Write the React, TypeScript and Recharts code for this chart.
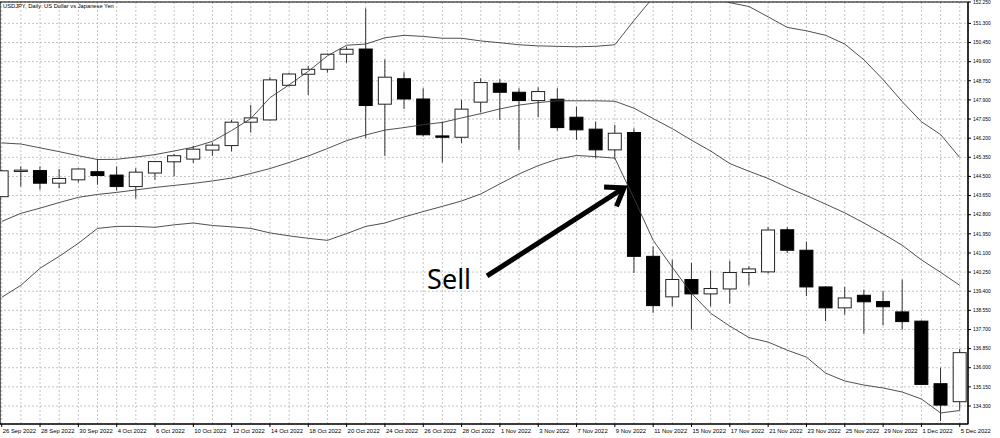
import React from 'react';
import {
  ComposedChart,
  Bar,
  Line,
  XAxis,
  YAxis,
  CartesianGrid,
  ReferenceArea,
  ReferenceLine,
} from 'recharts';

// ---- data ----
const dates = [
  '26 Sep 2022', '27 Sep 2022', '28 Sep 2022', '29 Sep 2022', '30 Sep 2022',
  '3 Oct 2022', '4 Oct 2022', '5 Oct 2022', '6 Oct 2022', '7 Oct 2022',
  '10 Oct 2022', '11 Oct 2022', '12 Oct 2022', '13 Oct 2022', '14 Oct 2022',
  '17 Oct 2022', '18 Oct 2022', '19 Oct 2022', '20 Oct 2022', '21 Oct 2022',
  '24 Oct 2022', '25 Oct 2022', '26 Oct 2022', '27 Oct 2022', '28 Oct 2022',
  '31 Oct 2022', '1 Nov 2022', '2 Nov 2022', '3 Nov 2022', '4 Nov 2022',
  '7 Nov 2022', '8 Nov 2022', '9 Nov 2022', '10 Nov 2022', '11 Nov 2022',
  '14 Nov 2022', '15 Nov 2022', '16 Nov 2022', '17 Nov 2022', '18 Nov 2022',
  '21 Nov 2022', '22 Nov 2022', '23 Nov 2022', '24 Nov 2022', '25 Nov 2022',
  '28 Nov 2022', '29 Nov 2022', '30 Nov 2022', '1 Dec 2022', '2 Dec 2022',
  '5 Dec 2022',
];

const opens = [
  143.60, 144.72, 144.76, 144.20, 144.35, 144.71, 144.56, 144.05, 144.65, 145.15,
  145.27, 145.67, 145.87, 146.91, 147.01, 148.55, 149.04, 149.26, 149.93, 150.16,
  147.71, 148.84, 147.94, 146.30, 146.24, 147.80, 148.64, 148.24, 147.87, 147.93,
  147.13, 146.60, 145.68, 146.45, 140.95, 139.15, 139.92, 139.28, 139.50, 140.23,
  140.26, 142.13, 141.22, 139.59, 138.66, 139.22, 138.94, 138.48, 138.07, 135.29,
  134.49,
];
const highs = [
  144.80, 144.94, 144.94, 144.83, 144.86, 145.27, 144.94, 144.87, 145.19, 145.50,
  145.86, 146.00, 147.01, 147.68, 148.91, 149.11, 149.41, 149.96, 150.26, 151.97,
  149.70, 149.13, 148.42, 146.94, 147.90, 148.86, 148.82, 148.42, 148.46, 148.42,
  147.60, 146.94, 146.79, 146.64, 141.39, 140.80, 140.66, 140.32, 140.76, 140.51,
  142.25, 142.25, 141.61, 139.62, 139.59, 139.47, 139.40, 139.92, 138.10, 136.00,
  136.84,
];
const lows = [
  143.58, 144.05, 143.91, 143.97, 144.23, 144.13, 143.88, 143.52, 144.35, 144.50,
  145.10, 145.42, 145.61, 146.45, 146.98, 148.50, 148.12, 149.11, 149.55, 146.20,
  145.42, 147.50, 146.27, 145.12, 145.98, 147.34, 147.01, 145.68, 147.13, 146.54,
  146.12, 145.31, 145.27, 140.21, 138.44, 138.73, 137.70, 138.73, 138.85, 139.65,
  140.18, 141.10, 139.18, 138.07, 138.36, 137.51, 137.88, 137.70, 135.24, 133.63,
  134.12,
];
const closes = [
  144.75, 144.78, 144.20, 144.41, 144.83, 144.54, 144.05, 144.69, 145.16, 145.42,
  145.71, 145.89, 146.91, 147.10, 148.79, 149.05, 149.26, 149.93, 150.15, 147.65,
  148.91, 147.94, 146.35, 146.24, 147.49, 148.67, 148.24, 147.87, 148.27, 146.67,
  146.57, 145.68, 146.42, 140.95, 138.76, 139.92, 139.28, 139.52, 140.23, 140.39,
  142.12, 141.22, 139.59, 138.66, 139.10, 138.93, 138.71, 138.05, 135.26, 134.34,
  136.67,
];

const upperBand = [
  145.99, 145.94, 145.77, 145.60, 145.42, 145.25, 145.26, 145.36, 145.47, 145.63,
  145.80, 146.06, 146.54, 147.07, 148.00, 148.57, 149.17, 149.86, 150.33, 150.38,
  150.66, 150.77, 150.72, 150.64, 150.64, 150.52, 150.44, 150.35, 150.30, 150.28,
  150.26, 150.28, 150.35, 151.43, 152.46, 152.62, 152.62, 152.45, 152.22, 152.05,
  151.59, 151.12, 150.97, 150.77, 150.38, 149.68, 148.80, 147.82, 146.93, 146.36,
  145.34,
];
const middleBand = [
  142.50, 142.86, 143.09, 143.34, 143.57, 143.70, 143.79, 143.90, 144.01, 144.10,
  144.19, 144.30, 144.43, 144.63, 144.85, 145.12, 145.41, 145.74, 146.09, 146.34,
  146.56, 146.67, 146.80, 146.90, 147.10, 147.29, 147.50, 147.67, 147.78, 147.86,
  147.86, 147.86, 147.84, 147.53, 147.07, 146.62, 146.11, 145.63, 145.07, 144.73,
  144.41, 144.01, 143.65, 143.27, 142.88, 142.43, 141.95, 141.44, 140.79, 140.24,
  139.66,
];
const lowerBand = [
  139.13, 139.66, 140.42, 140.95, 141.53, 142.19, 142.28, 142.28, 142.24, 142.35,
  142.43, 142.32, 142.26, 142.19, 141.99, 141.86, 141.75, 141.66, 141.96, 142.28,
  142.43, 142.70, 142.94, 143.17, 143.41, 143.72, 144.17, 144.61, 144.98, 145.27,
  145.43, 145.38, 145.31, 143.52, 141.66, 140.46, 139.31, 138.42, 137.85, 137.34,
  137.14, 136.78, 136.47, 135.76, 135.41, 135.23, 135.10, 134.92, 134.61, 133.99,
  134.10,
];

const yTicks = [
  134.3, 135.15, 136.0, 136.85, 137.7, 138.55, 139.4, 140.25, 141.1, 141.95,
  142.8, 143.65, 144.5, 145.35, 146.2, 147.05, 147.9, 148.75, 149.6, 150.45,
  151.3, 152.25,
];
const yDomain: [number, number] = [133.5, 152.25];
const xDomain: [number, number] = [-0.09, 50.43];

const chartTitle = 'USDJPY, Daily: US Dollar vs Japanese Yen';
const annotationText = 'Sell';
const arrowFrom = { x: 25.33, y: 140.08 };
const arrowTo = { x: 32.48, y: 143.99 };

const data = dates.map((d, i) => ({
  i,
  date: d,
  open: opens[i],
  high: highs[i],
  low: lows[i],
  close: closes[i],
  range: [lows[i], highs[i]],
  upper: upperBand[i],
  middle: middleBand[i],
  lower: lowerBand[i],
}));
const xTicks = data.map((d) => d.i);

const FONT = '"Liberation Sans", Arial, sans-serif';

const Candle = (props: any) => {
  const { x, y, width, height, payload } = props;
  if (x == null || y == null) return <g />;
  const cx = x + width / 2;
  const top = Math.min(y, y + height);
  const bottom = Math.max(y, y + height);
  const { open, high, low, close } = payload;
  const span = high - low || 1;
  const pix = (v: number) => top + ((high - v) / span) * (bottom - top);
  const bull = close >= open;
  const bTop = pix(Math.max(open, close));
  const bBot = pix(Math.min(open, close));
  const bw = 13;
  return (
    <g>
      <line x1={cx} x2={cx} y1={top} y2={bottom} stroke="#333" strokeWidth={1} />
      <rect
        x={cx - bw / 2}
        y={bTop}
        width={bw}
        height={Math.max(bBot - bTop, 1)}
        fill={bull ? '#ffffff' : '#000000'}
        stroke={bull ? '#222' : '#000'}
        strokeWidth={1}
      />
    </g>
  );
};

const XTick = (props: any) => {
  const { x, y, payload } = props;
  const i = payload.value;
  if (i % 2 !== 0) return <g />;
  return (
    <g>
      <line x1={x} x2={x} y1={y} y2={y + 3} stroke="#000" strokeWidth={1} />
      <text x={x + 1} y={y + 8.5} fontSize={5.9} fontFamily={FONT} fill="#000" textAnchor="start">
        {dates[i]}
      </text>
    </g>
  );
};

const ArrowShape = (props: any) => {
  const { x1, y1, x2, y2 } = props;
  if (x1 == null) return <g />;
  const dx = x2 - x1;
  const dy = y2 - y1;
  const len = Math.sqrt(dx * dx + dy * dy);
  const bx = -dx / len;
  const by = -dy / len;
  const ang = (35 * Math.PI) / 180;
  const L = 20;
  const rot = (a: number) => ({
    x: x2 + L * (bx * Math.cos(a) - by * Math.sin(a)),
    y: y2 + L * (bx * Math.sin(a) + by * Math.cos(a)),
  });
  const a1 = rot(ang);
  const a2 = rot(-ang);
  return (
    <g>
      <line x1={x1} y1={y1} x2={x2 - bx * -1} y2={y2 - by * -1} stroke="#000" strokeWidth={5} />
      <polyline
        points={`${a1.x},${a1.y} ${x2},${y2} ${a2.x},${a2.y}`}
        fill="none"
        stroke="#000"
        strokeWidth={5}
        strokeLinejoin="miter"
      />
      <text
        x={x1 - 16}
        y={y1 + 13}
        fontSize={27}
        fontFamily='"Noto Sans", "Open Sans", sans-serif'
        fill="#000"
        textAnchor="end"
      >
        {annotationText}
      </text>
    </g>
  );
};

export default function App() {
  return (
    <div style={{ position: 'absolute', left: 0, top: 0, width: 1000, height: 438, background: '#fff' }}>
      <ComposedChart
        width={1000}
        height={438}
        data={data}
        margin={{ top: 2, right: 0, bottom: 0, left: 0 }}
      >
        <CartesianGrid stroke="#c4c4c4" strokeDasharray="2 2" strokeWidth={1} />
        <XAxis
          type="number"
          dataKey="i"
          domain={xDomain}
          ticks={xTicks}
          interval={0}
          allowDataOverflow
          height={14}
          axisLine={{ stroke: '#000' }}
          tickLine={false}
          tickSize={0}
          tickMargin={0}
          tick={<XTick />}
        />
        <YAxis
          orientation="right"
          type="number"
          domain={yDomain}
          ticks={yTicks}
          interval={0}
          allowDataOverflow
          width={32}
          axisLine={{ stroke: '#000' }}
          tickLine={{ stroke: '#000' }}
          tickSize={3}
          tickMargin={2}
          tick={{ fontSize: 4.9, fill: '#000', fontFamily: FONT }}
          tickFormatter={(v: number) => v.toFixed(3)}
        />
        <ReferenceArea
          x1={xDomain[0]}
          x2={xDomain[1]}
          y1={yDomain[0]}
          y2={yDomain[1]}
          fill="none"
          stroke="#000"
          strokeWidth={1.2}
          fillOpacity={0}
        />
        <Line dataKey="upper" stroke="#3c3c3c" strokeWidth={0.9} dot={false} isAnimationActive={false} />
        <Line dataKey="middle" stroke="#3c3c3c" strokeWidth={0.9} dot={false} isAnimationActive={false} />
        <Line dataKey="lower" stroke="#3c3c3c" strokeWidth={0.9} dot={false} isAnimationActive={false} />
        <Bar dataKey="range" barSize={13} shape={<Candle />} isAnimationActive={false} />
        <ReferenceLine
          segment={[arrowFrom, arrowTo]}
          stroke="#000"
          ifOverflow="visible"
          shape={(p: any) => <ArrowShape {...p} />}
        />
      </ComposedChart>
      <svg
        width={1000}
        height={20}
        style={{ position: 'absolute', left: 0, top: 0, pointerEvents: 'none' }}
      >
        <text x={3} y={8.2} fontSize={5.75} fontFamily={FONT} fill="#000">
          {chartTitle}
        </text>
      </svg>
    </div>
  );
}
